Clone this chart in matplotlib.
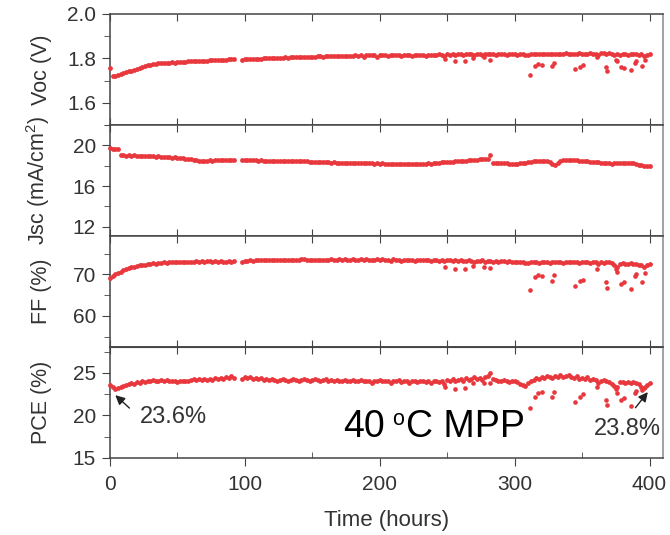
import numpy as np
import matplotlib.pyplot as plt
from matplotlib.ticker import MultipleLocator

plt.rcParams['font.family'] = ['Liberation Sans', 'DejaVu Sans']
plt.rcParams['mathtext.fontset'] = 'custom'
plt.rcParams['mathtext.rm'] = 'Liberation Sans'
plt.rcParams['mathtext.it'] = 'Liberation Sans:italic'

nan = np.nan

# sampling grid, one reading every 2 hours (short gap at 94-96 h)
hours = np.arange(0, 401, 2)

voc = [1.755, 1.720, 1.722, 1.725, 1.729, 1.733, 1.737, 1.741, 1.745, 1.749,
       1.753, 1.757, 1.761, 1.765, 1.768, 1.771, 1.774, 1.776, 1.778, 1.779,
       1.780, 1.779, 1.781, 1.782, 1.781, 1.783, 1.784, 1.783, 1.785, 1.786,
       1.786, 1.787, 1.788, 1.787, 1.789, 1.790, 1.790, 1.791, 1.792, 1.791,
       1.793, 1.793, 1.794, 1.794, 1.795, 1.795, 1.796, nan, nan, 1.793,
       1.795, 1.796, 1.797, 1.797, 1.798, 1.799, 1.799, 1.800, 1.800, 1.801,
       1.801, 1.802, 1.801, 1.803, 1.803, 1.804, 1.803, 1.805, 1.805, 1.806,
       1.806, 1.805, 1.807, 1.807, 1.808, 1.808, 1.807, 1.809, 1.809, 1.808,
       1.810, 1.810, 1.809, 1.811, 1.810, 1.811, 1.812, 1.811, 1.812, 1.812,
       1.811, 1.813, 1.812, 1.813, 1.807, 1.813, 1.814, 1.813, 1.814, 1.808,
       1.814, 1.815, 1.814, 1.809, 1.815, 1.814, 1.816, 1.815, 1.810, 1.816,
       1.815, 1.816, 1.811, 1.816, 1.817, 1.815, 1.816, 1.812, 1.817, 1.816,
       1.817, 1.816, 1.818, 1.817, 1.809, 1.819, 1.817, 1.818, 1.816, 1.819,
       1.818, 1.817, 1.819, 1.818, 1.820, 1.817, 1.819, 1.818, 1.813, 1.819,
       1.820, 1.818, 1.819, 1.817, 1.820, 1.818, 1.819, 1.817, 1.820, 1.818,
       1.819, 1.817, 1.820, 1.818, 1.815, 1.813, 1.819, 1.818, 1.820, 1.819,
       1.821, 1.819, 1.820, 1.818, 1.821, 1.820, 1.819, 1.821, 1.820, 1.822,
       1.820, 1.821, 1.819, 1.821, 1.822, 1.820, 1.821, 1.819, 1.822, 1.820,
       1.821, 1.816, 1.822, 1.823, 1.821, 1.822, 1.820, 1.813, 1.818, 1.817,
       1.818, 1.819, 1.817, 1.818, 1.820, 1.819, 1.814, 1.820, 1.810, 1.815,
       1.820]

jsc = [19.70, 19.68, 19.65, 19.60, 19.05, 19.00, 18.98, 19.02, 18.97, 19.00,
       18.98, 18.95, 18.97, 18.93, 18.95, 18.90, 18.92, 18.88, 18.90, 18.86,
       18.88, 18.84, 18.85, 18.80, 18.82, 18.78, 18.75, 18.72, 18.70, 18.66,
       18.62, 18.58, 18.55, 18.50, 18.47, 18.48, 18.50, 18.52, 18.50, 18.53,
       18.55, 18.54, 18.56, 18.57, 18.58, 18.56, 18.57, nan, nan, 18.58,
       18.57, 18.55, 18.56, 18.53, 18.54, 18.50, 18.52, 18.48, 18.50, 18.47,
       18.48, 18.45, 18.47, 18.44, 18.46, 18.43, 18.45, 18.42, 18.44, 18.45,
       18.43, 18.45, 18.42, 18.44, 18.40, 18.38, 18.40, 18.36, 18.38, 18.35,
       18.33, 18.35, 18.30, 18.32, 18.28, 18.30, 18.27, 18.29, 18.26, 18.28,
       18.25, 18.27, 18.24, 18.26, 18.23, 18.25, 18.22, 18.24, 18.21, 18.23,
       18.20, 18.22, 18.19, 18.21, 18.18, 18.20, 18.17, 18.19, 18.16, 18.18,
       18.12, 18.14, 18.13, 18.16, 18.15, 18.17, 18.20, 18.18, 18.22, 18.20,
       18.25, 18.28, 18.30, 18.33, 18.32, 18.36, 18.38, 18.40, 18.42, 18.44,
       18.45, 18.47, 18.50, 18.52, 18.55, 18.58, 18.60, 18.63, 18.65, 18.68,
       18.70, 19.00, 18.30, 18.28, 18.27, 18.25, 18.24, 18.22, 18.20, 18.21,
       18.19, 18.20, 18.22, 18.25, 18.30, 18.35, 18.40, 18.43, 18.45, 18.47,
       18.45, 18.47, 18.45, 18.40, 18.20, 18.02, 18.30, 18.48, 18.55, 18.58,
       18.60, 18.58, 18.55, 18.52, 18.50, 18.48, 18.45, 18.42, 18.40, 18.38,
       18.35, 18.32, 18.30, 18.28, 18.25, 18.22, 18.20, 18.22, 18.25, 18.27,
       18.28, 18.30, 18.27, 18.25, 18.22, 18.20, 18.10, 18.05, 17.95, 17.93,
       17.95]

ff = [69.2, 69.6, 70.0, 70.4, 70.7, 71.0, 71.3, 71.5, 71.7, 71.9,
      72.0, 72.2, 72.3, 72.4, 72.5, 72.6, 72.7, 72.6, 72.8, 72.7,
      72.9, 72.8, 72.9, 73.0, 72.9, 73.0, 73.1, 72.9, 73.0, 73.1,
      73.0, 73.1, 73.2, 73.1, 73.2, 73.1, 73.3, 73.2, 73.1, 73.2,
      73.1, 73.2, 73.0, 73.1, 73.2, 73.1, 73.2, nan, nan, 73.0,
      73.2, 73.3, 73.4, 73.3, 73.4, 73.5, 73.4, 73.6, 73.4, 73.5,
      73.4, 73.6, 73.5, 73.4, 73.5, 73.6, 73.5, 73.4, 73.6, 73.5,
      73.5, 73.7, 73.8, 73.6, 73.5, 73.6, 73.5, 73.4, 73.6, 73.5,
      73.6, 73.5, 73.7, 73.6, 73.5, 73.7, 73.6, 73.8, 73.5, 73.6,
      73.7, 73.6, 73.5, 73.7, 73.6, 73.8, 73.5, 73.4, 73.6, 73.7,
      73.6, 73.8, 73.5, 73.6, 73.2, 73.7, 73.5, 73.6, 73.3, 73.5,
      73.6, 73.4, 73.5, 73.2, 73.6, 73.5, 73.4, 73.6, 73.5, 73.3,
      73.4, 73.5, 73.3, 73.4, 73.2, 73.6, 73.4, 73.3, 73.5, 73.2,
      73.4, 73.3, 73.2, 73.4, 73.3, 73.1, 73.3, 73.2, 73.4, 73.1,
      73.3, 73.2, 73.0, 73.3, 73.1, 73.2, 73.3, 73.0, 73.2, 73.1,
      73.0, 73.1, 72.9, 73.0, 72.7, 72.8, 73.0, 72.9, 73.1, 72.8,
      73.0, 72.9, 73.1, 72.8, 73.0, 73.1, 72.9, 73.0, 72.8, 73.1,
      73.0, 72.9, 73.1, 73.0, 72.8, 73.1, 72.9, 73.0, 72.8, 73.0,
      72.9, 72.5, 73.0, 72.8, 72.9, 73.0, 72.7, 72.4, 71.8, 72.6,
      72.7, 72.5, 72.6, 72.7, 72.5, 72.6, 72.4, 72.3, 71.8, 72.4,
      72.6]

pce = [23.6, 23.4, 23.1, 23.2, 23.4, 23.5, 23.6, 23.7, 23.8, 23.7,
       23.9, 23.8, 24.0, 23.9, 24.1, 24.0, 24.2, 24.1, 24.0, 24.2,
       24.1, 24.2, 24.0, 24.1, 24.0, 23.9, 24.0, 24.1, 24.0, 24.1,
       24.2, 24.3, 24.2, 24.3, 24.2, 24.3, 24.2, 24.3, 24.2, 24.4,
       24.3, 24.4, 24.3, 24.5, 24.4, 24.6, 24.4, nan, nan, 24.3,
       24.5, 24.4, 24.5, 24.3, 24.4, 24.3, 24.4, 24.2, 24.3, 24.2,
       24.3, 24.2, 24.1, 24.2, 24.3, 24.2, 24.1, 24.2, 24.3, 24.2,
       24.1, 24.2, 24.3, 24.2, 24.1, 24.2, 24.3, 24.2, 24.1, 24.2,
       24.3, 24.1, 24.2, 24.0, 24.2, 24.1, 24.0, 24.2, 24.1, 24.0,
       24.2, 24.1, 24.0, 24.2, 24.1, 24.0, 24.1, 23.8, 24.1, 24.0,
       24.2, 24.1, 24.0, 24.1, 23.8, 24.1, 24.0, 24.2, 23.9, 24.0,
       24.1, 23.8, 24.0, 24.1, 23.9, 24.0, 24.1, 23.9, 24.0, 23.8,
       24.0, 24.1, 23.9, 24.0, 23.7, 24.2, 24.1, 24.3, 24.0, 24.2,
       24.3, 24.1, 24.4, 24.2, 24.3, 24.5, 24.3, 24.4, 24.2, 24.5,
       24.6, 25.0, 24.3, 24.2, 24.1, 24.0, 24.2, 24.1, 23.9, 24.0,
       24.1, 23.9, 23.7, 23.6, 23.5, 23.8, 24.0, 24.2, 24.4, 24.3,
       24.5, 24.4, 24.6, 24.5, 24.4, 24.6, 24.5, 24.7, 24.5, 24.6,
       24.7, 24.5, 24.4, 24.6, 24.3, 24.4, 24.3, 24.5, 24.2, 24.3,
       24.2, 23.8, 24.1, 24.2, 24.0, 23.9, 23.7, 23.5, 23.3, 23.9,
       23.9, 23.8, 23.9, 23.8, 23.9, 23.8, 23.7, 23.4, 23.2, 23.6,
       23.8]

# scattered low readings in the second half of the test
dip_hours = [248.6, 256.0, 263.5, 269.4, 277.0, 282.0, 311.7, 315.4, 317.0,
             320.6, 327.8, 329.5, 344.6, 348.3, 350.6, 361.0, 367.4, 368.6,
             374.8, 376.0, 378.5, 381.0, 385.9, 388.9, 390.1, 394.5, 397.0]
voc_dips = [1.799, 1.786, 1.790, 1.803, 1.805, 1.794, 1.726, 1.765, 1.773,
            1.771, 1.765, 1.777, 1.750, 1.760, 1.768, 1.805, 1.760, 1.745,
            1.794, 1.786, 1.760, 1.758, 1.749, 1.779, 1.786, 1.765, 1.794]
ff_dips = [71.8, 71.4, 71.2, 72.0, 71.8, 71.6, 66.2, 69.3, 69.9,
           69.6, 68.5, 69.9, 67.2, 68.3, 68.7, 71.2, 68.2, 66.8,
           71.4, 70.6, 67.7, 68.1, 66.6, 69.6, 70.2, 68.1, 70.3]
pce_dips = [23.4, 23.1, 23.2, 23.8, 23.8, 23.85, 20.85, 22.2, 22.6,
            22.7, 22.2, 22.7, 21.6, 22.2, 22.5, 23.4, 21.8, 21.2,
            23.1, 22.6, 21.8, 22.0, 21.05, 22.6, 22.9, 23.0, 23.4]

labels = ['Voc (V)', 'Jsc (mA/cm$^2$)', 'FF (%)', 'PCE (%)']
series = [voc, jsc, ff, pce]
dips = [voc_dips, None, ff_dips, pce_dips]
ylims = [(1.5, 2.0), (11.1, 22.0), (52.5, 79.3), (15, 28.05)]
majors = [0.2, 4, 10, 5]
minors = [0.1, 2, 5, 2.5]

red = '#e8383d'
grey = '#333333'

fig, axs = plt.subplots(4, 1, figsize=(6.7, 5.35), dpi=100)
fig.subplots_adjust(left=0.164, right=0.9896, top=0.974, bottom=0.144, hspace=0)

for i, ax in enumerate(axs):
    ax.scatter(hours, series[i], s=12, color=red, linewidths=0, clip_on=False, zorder=3)
    if dips[i] is not None:
        ax.scatter(dip_hours, dips[i], s=11, color=red, linewidths=0, zorder=3)
    ax.set_xlim(0, 410)
    ax.set_ylim(*ylims[i])
    ax.yaxis.set_major_locator(MultipleLocator(majors[i]))
    ax.yaxis.set_minor_locator(MultipleLocator(minors[i]))
    ax.tick_params(axis='y', which='both', direction='out', left=True, right=False,
                   labelsize=15, labelcolor=grey, color='#444444', pad=4)
    ax.tick_params(axis='y', which='major', length=6)
    ax.tick_params(axis='y', which='minor', length=4)
    for sp in ax.spines.values():
        sp.set_color('#444444')
        sp.set_linewidth(1.1)
    ax.spines['right'].set_color('#888888')
    ax.set_ylabel(labels[i], fontsize=15.5, color=grey)
    ax.yaxis.set_label_coords(-0.105, 0.5)
    if i < 3:
        ax.xaxis.set_major_locator(MultipleLocator(50))
        ax.tick_params(axis='x', direction='in', top=True, bottom=True,
                       labelbottom=False, length=5, color='#444444')

ax4 = axs[3]
ax4.xaxis.set_major_locator(MultipleLocator(100))
ax4.xaxis.set_minor_locator(MultipleLocator(50))
ax4.tick_params(axis='x', which='major', direction='out', length=6, top=False,
                labelsize=15, labelcolor=grey, color='#444444', pad=6)
ax4.tick_params(axis='x', which='minor', direction='in', length=4, top=False,
                color='#444444')
top_ax = ax4.secondary_xaxis('top')
top_ax.xaxis.set_major_locator(MultipleLocator(50))
top_ax.tick_params(direction='in', length=5, labeltop=False, color='#444444')
top_ax.spines['top'].set_color('#444444')
ax4.set_xlabel('Time (hours)', fontsize=16, color=grey, labelpad=12)

# annotations
ax4.annotate('', xy=(2.5, 22.6), xytext=(16, 20.65),
             arrowprops=dict(arrowstyle='-|>', color='#222222', lw=1, mutation_scale=14))
ax4.text(22.3, 19.8, '23.6%', fontsize=17, color=grey, ha='left', va='center')
ax4.annotate('', xy=(400, 23.0), xytext=(388.3, 20.65),
             arrowprops=dict(arrowstyle='-|>', color='#222222', lw=1, mutation_scale=14))
ax4.text(383.7, 18.4, '23.8%', fontsize=17, color=grey, ha='center', va='center')

# "40 oC MPP" with a small raised o
t40 = ax4.text(172.9, 17.47, '40', fontsize=27, color='black', ha='left', va='baseline')
t_o = ax4.annotate('o', xy=(1, 0), xycoords=t40, xytext=(5, 14.5),
                   textcoords='offset points', fontsize=15.5, color='black',
                   ha='left', va='baseline')
ax4.annotate('C MPP', xy=(1, 0), xycoords=(t_o, t40), xytext=(2, 0),
             textcoords='offset points', fontsize=27, color='black',
             ha='left', va='bottom')

fig.savefig('out.png', dpi=100)
